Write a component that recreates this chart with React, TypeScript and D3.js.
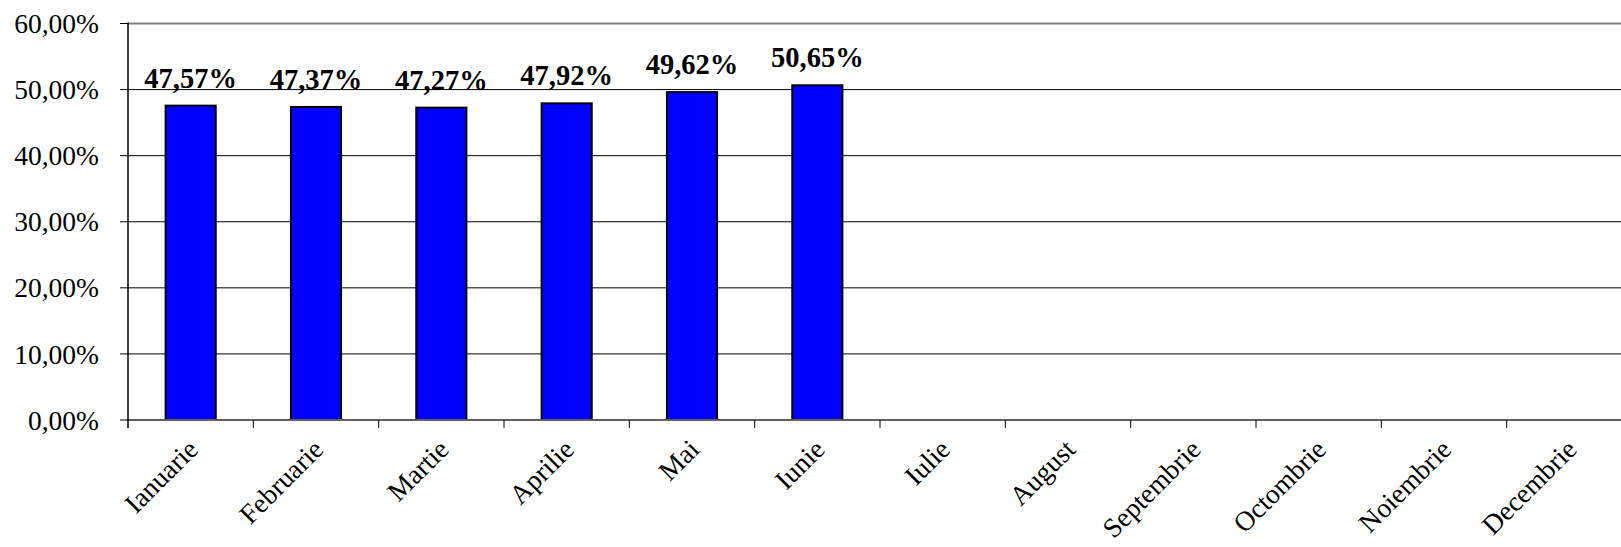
import React from "react";
import * as d3 from "d3";

const months = ["Ianuarie","Februarie","Martie","Aprilie","Mai","Iunie","Iulie","August","Septembrie","Octombrie","Noiembrie","Decembrie"];
const values: (number | null)[] = [47.57, 47.37, 47.27, 47.92, 49.62, 50.65, null, null, null, null, null, null];
const yTicks = [0, 10, 20, 30, 40, 50, 60];

const W = 1621, H = 547;
const left = 128, top = 23.5, bottom = 420, right = 1632;
const FONT = "'Liberation Serif', 'Times New Roman', serif";

const fmt = (v: number) => v.toFixed(2).replace(".", ",") + "%";

export default function App() {
  const x = d3.scaleBand<string>().domain(months).range([left, right]).paddingInner(0).paddingOuter(0);
  const y = d3.scaleLinear().domain([0, 60]).range([bottom, top]);
  const bw = x.bandwidth() / 2.5;
  return (
    <svg width={W} height={H} style={{ position: "absolute", left: 0, top: 0, background: "#fff" }} fontFamily={FONT}>
      {yTicks.filter(t => t > 0 && t < 60).map(t => (
        <line key={"g" + t} x1={left} x2={W} y1={y(t)} y2={y(t)} stroke="#000" strokeWidth={1} />
      ))}
      <line x1={left} x2={W} y1={y(60)} y2={y(60)} stroke="#808080" strokeWidth={2} />
      {yTicks.map(t => (
        <g key={"t" + t}>
          <line x1={left - 8} x2={left} y1={y(t)} y2={y(t)} stroke="#000" strokeWidth={1} />
          <text x={99} y={y(t)} dy="0.35em" textAnchor="end" fontSize={27.5}>{fmt(t)}</text>
        </g>
      ))}
      {values.map((v, i) => v == null ? null : (
        <g key={"b" + i}>
          <rect x={(x(months[i]) as number) + (x.bandwidth() - bw) / 2} y={y(v)} width={bw} height={bottom - y(v)} fill="#0000FF" stroke="#000" strokeWidth={2} />
          <text x={(x(months[i]) as number) + x.bandwidth() / 2} y={y(v) - 18} textAnchor="middle" fontSize={28.5} fontWeight="bold">{fmt(v)}</text>
        </g>
      ))}
      <line x1={left} x2={W} y1={bottom} y2={bottom} stroke="#606060" strokeWidth={2} />
      <line x1={left} x2={left} y1={top - 1} y2={bottom + 8} stroke="#000" strokeWidth={1.5} />
      {months.map((m, i) => (
        <line key={"xt" + i} x1={(x(m) as number) + x.bandwidth()} x2={(x(m) as number) + x.bandwidth()} y1={bottom} y2={bottom + 8} stroke="#000" strokeWidth={1} />
      ))}
      {months.map(m => {
        const cx = (x(m) as number) + x.bandwidth() / 2 + 9;
        const cy = 451;
        return (
          <text key={"l" + m} x={cx} y={cy} textAnchor="end" fontSize={27.5} transform={`rotate(-45 ${cx} ${cy})`}>{m}</text>
        );
      })}
    </svg>
  );
}
